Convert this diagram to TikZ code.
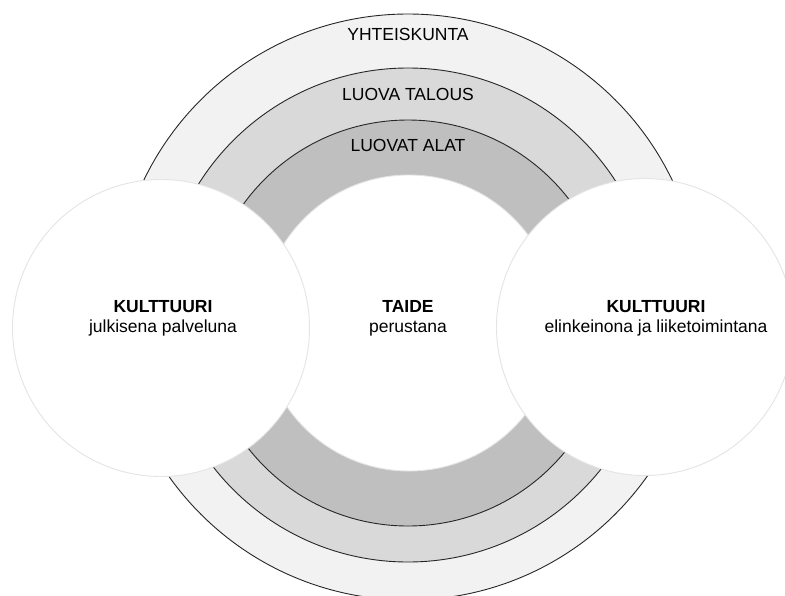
\documentclass[tikz,border=0pt]{standalone}
\usepackage{fontspec}
\setmainfont{Liberation Sans}
\definecolor{outerring}{HTML}{F2F2F2}
\definecolor{midring}{HTML}{D9D9D9}
\definecolor{innerring}{HTML}{BFBFBF}
\definecolor{rim}{HTML}{E4E4E4}
\begin{document}
\begin{tikzpicture}[x=1pt,y=-1pt,
    ring/.style={draw=black!85,line width=0.9pt},
    disc/.style={circle,fill=white,draw=rim,line width=0.9pt,inner sep=0pt},
    caption/.style={font=\fontsize{17.5}{20.5}\selectfont,align=center,inner sep=0pt}]
  \useasboundingbox (0,0) rectangle (785,595);
  % rings
  \filldraw[ring,fill=outerring] (408,307) circle[radius=293pt];
  \filldraw[ring,fill=midring] (408,315) circle[radius=247pt];
  \filldraw[ring,fill=innerring] (408,323) circle[radius=203pt];
  % discs
  \node[disc,minimum size=296pt] (taide) at (409,323) {};
  \node[disc,minimum size=297pt] (julk) at (161,328) {};
  \node[disc,minimum size=297pt] (elink) at (645,327) {};
  % texts
  \node[caption] (yht) at (408,34.5) {YHTEISKUNTA};
  \node[caption] (talous) at (408,94) {LUOVA TALOUS};
  \node[caption] (alat) at (408,145) {LUOVAT ALAT};
  \node[caption] (julkt) at (163,318.5) {\textbf{KULTTUURI}\\julkisena palveluna};
  \node[caption] (taidet) at (408,318.5) {\textbf{TAIDE}\\perustana};
  \node[caption] (elinkt) at (656,318.5) {\textbf{KULTTUURI}\\elinkeinona ja liiketoimintana};
\end{tikzpicture}
\end{document}
